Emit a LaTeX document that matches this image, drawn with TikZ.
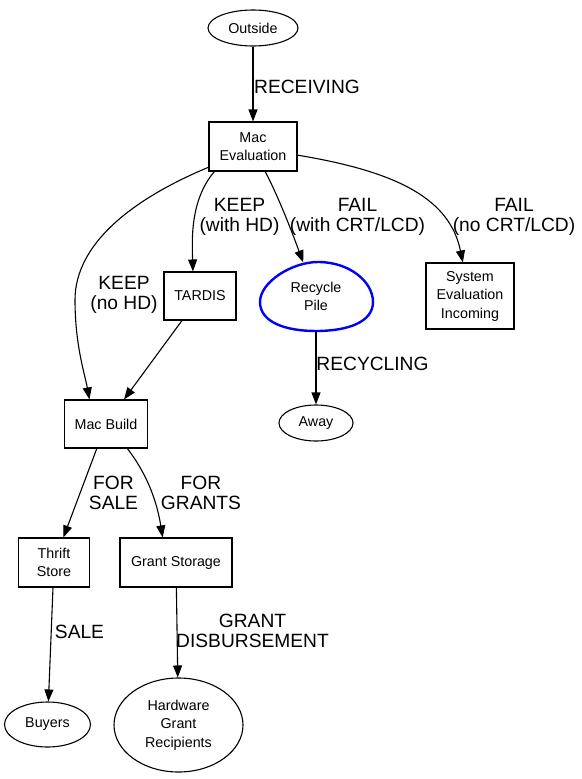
\documentclass[tikz,border=0pt]{standalone}
\usepackage{fontspec}
\setmainfont{Liberation Sans}
\usetikzlibrary{shapes.geometric,arrows.meta}
\begin{document}
\begin{tikzpicture}[x=1pt,y=-1pt,
  every path/.style={line width=1.1pt},
  ntext/.style={font=\fontsize{14.3}{18.5}\selectfont, align=center, inner sep=0pt},
  boxnode/.style={ntext, draw, rectangle},
  ellnode/.style={ntext, draw, ellipse},
  elabel/.style={font=\fontsize{19.2}{20}\selectfont, align=center, inner sep=0pt},
  edge/.style={-{Triangle[length=12pt,width=9pt]}}
]
\useasboundingbox (0,0) rectangle (581,779);
% nodes
\node[ellnode, minimum width=90pt, minimum height=36pt] (outside) at (253,28) {Outside};
\node[boxnode, minimum width=88pt, minimum height=49pt] (eval) at (253,146.5) {Mac\\Evaluation};
\node[boxnode, minimum width=72pt, minimum height=48pt] (tardis) at (200,296) {TARDIS};
\node[ntext, ellipse, minimum width=113pt, minimum height=69pt] (recycle) at (316,296.5) {Recycle\\Pile};
\node[boxnode, minimum width=88pt, minimum height=66pt] (sys) at (470,296) {System\\Evaluation\\Incoming};
\node[boxnode, minimum width=83pt, minimum height=48pt] (build) at (106,424) {Mac Build};
\node[ellnode, minimum width=74pt, minimum height=36pt] (away) at (316,423) {Away};
\node[boxnode, minimum width=71pt, minimum height=49pt] (thrift) at (54,562.5) {Thrift\\Store};
\node[boxnode, minimum width=112pt, minimum height=49pt] (grant) at (176,562.5) {Grant Storage};
\node[ellnode, minimum width=86pt, minimum height=45pt] (buyers) at (47.5,724.5) {Buyers};
\node[ellnode, minimum width=129pt, minimum height=94pt] (hgr) at (178.5,725) {Hardware\\Grant\\Recipients};
% egg outline of Recycle Pile
\draw[blue, line width=2.4pt] (260,302) .. controls (260,282) and (292,262) .. (318,262)
  .. controls (350,262) and (373,282) .. (373,302)
  .. controls (373,322) and (348,331) .. (316,331)
  .. controls (285,331) and (260,322) .. (260,302) -- cycle;
% edges
\draw[edge] (outside) -- (eval);
\draw[edge] (eval.205) .. controls (130,200) and (75,245) .. (75,300)
  .. controls (75,345) and (85,375) .. (build.124);
\draw[edge] (eval.213) .. controls (190,200) and (192,240) .. (tardis.106);
\draw[edge] (eval.296) .. controls (280,200) and (293,235) .. (recycle);
\draw[edge] (eval.349) .. controls (400,172) and (450,200) .. (sys.102);
\draw[edge] (tardis) -- (build);
\draw[edge] (recycle) -- (away);
\draw[edge] (build) -- (thrift);
\draw[edge] (build.311) .. controls (140,465) and (155,490) .. (grant.118);
\draw[edge] (thrift) -- (buyers);
\draw[edge] (grant) -- (hgr);
% edge labels
\node[elabel] (lrec) at (307,87) {RECEIVING};
\node[elabel] (lkhd) at (239.5,217) {KEEP\\(with HD)};
\node[elabel] (lfcrt) at (357.5,217) {FAIL\\(with CRT/LCD)};
\node[elabel] (lfno) at (514,217) {FAIL\\(no CRT/LCD)};
\node[elabel] (lknohd) at (124,295) {KEEP\\(no HD)};
\node[elabel] (lrcy) at (372.5,364) {RECYCLING};
\node[elabel] (lsale1) at (113.5,493) {FOR\\SALE};
\node[elabel] (lgr) at (201,493) {FOR\\GRANTS};
\node[elabel] (lsale) at (79.5,632) {SALE};
\node[elabel] (ldisb) at (252.5,631) {GRANT\\DISBURSEMENT};
\end{tikzpicture}
\end{document}
